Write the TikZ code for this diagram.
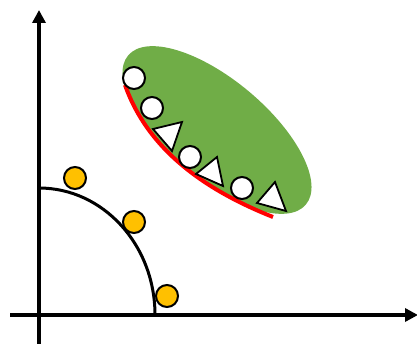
\documentclass[tikz,border=0pt]{standalone}
\usetikzlibrary{arrows.meta}
\definecolor{lgreen}{HTML}{70AD47}
\definecolor{gold}{HTML}{FFC000}
\begin{document}
\begin{tikzpicture}[x=1pt,y=-1pt,
  axis/.style={line width=4pt,-{Triangle[width=13pt,length=13pt]}},
  ydot/.style={fill=gold,draw=black,line width=2pt},
  wdot/.style={fill=white,draw=black,line width=2pt},
  wtri/.style={fill=white,draw=black,line width=1.8pt,line join=miter}]
\useasboundingbox (0,0) rectangle (417,344);
% green ellipse
\fill[lgreen,rotate around={-40:(217,130)}] (217,130) ellipse [x radius=116, y radius=50];
% red line
\draw[red,line width=4pt] (125,85) .. controls (148,150) and (205,190) .. (273,217);
% axes
\draw[axis] (39,344) -- (39,10);
\draw[axis] (10,315) -- (418,315);
% quarter arc
\draw[line width=3pt] (39,188) arc[start angle=-90,end angle=0,x radius=116,y radius=127];
% yellow dots
\draw[ydot] (75,178) circle[radius=11];
\draw[ydot] (134,222) circle[radius=11];
\draw[ydot] (167,296) circle[radius=11];
% white dots
\draw[wdot] (134,78) circle[radius=11];
\draw[wdot] (152,108) circle[radius=11];
\draw[wdot] (190,157) circle[radius=11];
\draw[wdot] (242,188) circle[radius=11];
% triangles
\draw[wtri] (153,129) -- (182,122) -- (172,151) -- cycle;
\draw[wtri] (196,174) -- (217,157) -- (223,186) -- cycle;
\draw[wtri] (257,203) -- (275,182) -- (286,211) -- cycle;
\end{tikzpicture}
\end{document}
